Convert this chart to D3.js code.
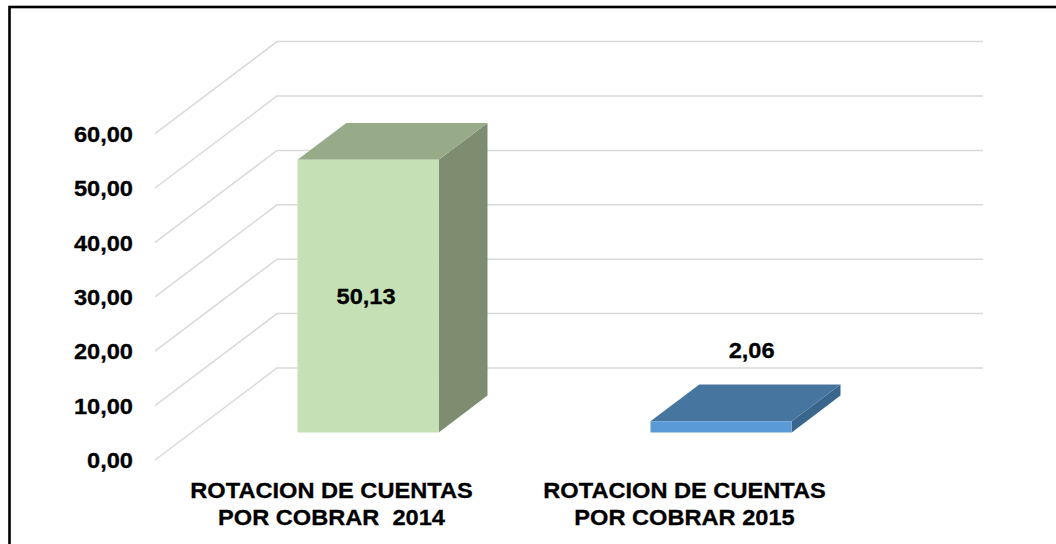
<!DOCTYPE html>
<html>
<head>
<meta charset="utf-8">
<script src="https://cdn.jsdelivr.net/npm/d3@7"></script>
<style>
  html, body { margin: 0; padding: 0; background: #ffffff; }
  svg { display: block; }
  text { font-family: "Liberation Sans", Arial, sans-serif; font-weight: bold; fill: #000; stroke: #000; stroke-width: 0.3px; white-space: pre; }
</style>
</head>
<body>
<svg id="chart" width="1056" height="544"></svg>
<script>
// Data
const categories = ["ROTACION DE CUENTAS\nPOR COBRAR  2014", "ROTACION DE CUENTAS\nPOR COBRAR 2015"];
const values = [50.13, 2.06];
const yTicks = [0, 10, 20, 30, 40, 50, 60];

// Bar colours: front face, top face, side face
const faceColors = [
  { front: "#C5E0B4", top: "#97AB88", side: "#7E8D70" },
  { front: "#5B9BD5", top: "#46769F", side: "#3A658D" }
];

const W = 1056, H = 544;
const svg = d3.select("#chart");

// Frame around the chart area
svg.append("rect")
  .attr("x", 9.5).attr("y", 7)
  .attr("width", W + 20).attr("height", H + 20)
  .attr("fill", "none").attr("stroke", "#000").attr("stroke-width", 2.6);

// 3D layout: front floor starts at (x0, y0); the back wall is shifted by (depthX, depthY)
const x0 = 155, y0 = 460;
const floorW = 706;
const depthX = 122, depthY = 92;
const textScaleX = 1.05;
const fontSize = "22.5px";

const y = d3.scaleLinear().domain([0, 60]).range([0, 326.4]);
const x = d3.scaleBand().domain(d3.range(categories.length)).range([0, floorW])
  .paddingInner(0.6).paddingOuter(0.3);

// project (horizontal position, value, depth 0..1) to screen
function P(px, v, z) {
  return [x0 + px + z * depthX, y0 - y(v) - z * depthY];
}

const fmt = d3.formatLocale({ decimal: ",", thousands: ".", grouping: [3], currency: ["", ""] }).format(".2f");

// Gridlines: diagonal on side wall + horizontal on back wall
const grid = svg.append("g").attr("fill", "none").attr("stroke", "#D9D9D9").attr("stroke-width", 1.5);
yTicks.forEach(t => {
  const a = P(0, t, 0), b = P(0, t, 1), c = P(floorW, t, 1);
  grid.append("path").attr("d", d3.line()([a, b, c]));
});

// Y axis labels
svg.append("g").selectAll("text").data(yTicks).join("text")
  .attr("transform", d => `translate(${x0 - 22},${y0 - y(d)}) scale(${textScaleX},1)`)
  .attr("text-anchor", "end").attr("dy", "0.36em")
  .style("font-size", fontSize)
  .text(d => fmt(d));

// Bars as boxes
const zFront = 0.3, zBack = 0.7;
const bars = svg.append("g");
values.forEach((v, i) => {
  const xl = x(i), xr = x(i) + x.bandwidth();
  const col = faceColors[i];
  const poly = pts => d3.line()(pts) + "Z";
  // side face
  bars.append("path").attr("fill", col.side)
    .attr("d", poly([P(xr, 0, zFront), P(xr, 0, zBack), P(xr, v, zBack), P(xr, v, zFront)]));
  // top face
  bars.append("path").attr("fill", col.top)
    .attr("d", poly([P(xl, v, zFront), P(xl, v, zBack), P(xr, v, zBack), P(xr, v, zFront)]));
  // front face
  bars.append("path").attr("fill", col.front)
    .attr("d", poly([P(xl, 0, zFront), P(xr, 0, zFront), P(xr, v, zFront), P(xl, v, zFront)]));

  // value label
  const fh = y(v);
  let lx, ly;
  if (fh > 40) {
    const p = P(xl + x.bandwidth() / 2, v / 2, zFront);
    lx = p[0] - 2; ly = p[1];
  } else {
    const p = P(xl + x.bandwidth() / 2, v, 0.55);
    lx = p[0]; ly = p[1] - 48;
  }
  svg.append("text")
    .attr("transform", `translate(${lx},${ly}) scale(${textScaleX},1)`)
    .attr("text-anchor", "middle").attr("dy", "0.36em")
    .style("font-size", fontSize)
    .text(fmt(v));
});

// Category labels under the floor
const catG = svg.append("g");
categories.forEach((c, i) => {
  const cx = x0 + x(i) + x.bandwidth() / 2;
  c.split("\n").forEach((line, k) => {
    catG.append("text")
      .attr("transform", `translate(${cx},${489.5 + k * 27.5}) scale(${textScaleX},1)`)
      .attr("text-anchor", "middle").attr("dy", "0.36em")
      .style("font-size", fontSize)
      .text(line);
  });
});
</script>
</body>
</html>
